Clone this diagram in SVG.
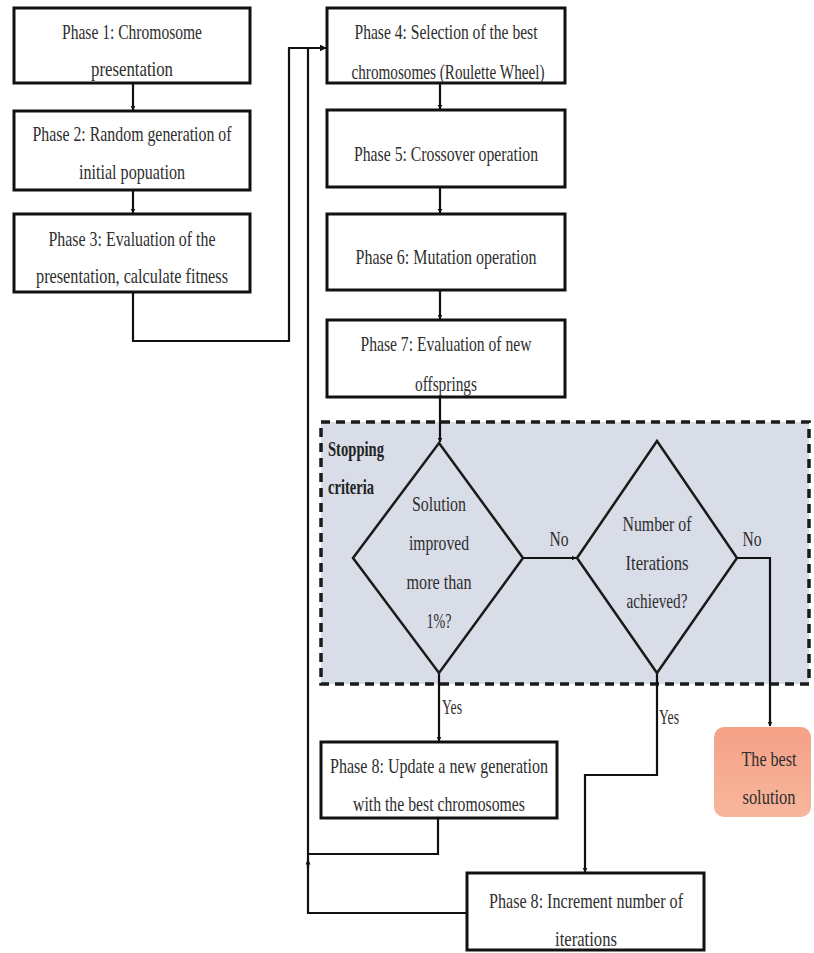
<svg xmlns="http://www.w3.org/2000/svg" width="814" height="953" viewBox="0 0 814 953">
<defs>
<marker id="ah" viewBox="0 0 10 10" refX="9" refY="5" markerWidth="5" markerHeight="5" orient="auto" markerUnits="userSpaceOnUse">
<path d="M0,0 L10,5 L0,10 z" fill="#111"/>
</marker>
<marker id="ahs" viewBox="0 0 10 10" refX="9" refY="5" markerWidth="7" markerHeight="7" orient="auto" markerUnits="userSpaceOnUse">
<path d="M0,0 L10,5 L0,10 z" fill="#111"/>
</marker>
<linearGradient id="og" x1="0" y1="0" x2="0" y2="1">
<stop offset="0" stop-color="#f4a187"/>
<stop offset="1" stop-color="#f8b69c"/>
</linearGradient>
</defs>
<style>
.box{fill:#fff;stroke:#111;stroke-width:3}
.dia{fill:none;stroke:#1a1a1a;stroke-width:2.5}
.t{font-family:"Liberation Serif","DejaVu Serif",serif;font-size:22px;fill:#2e2e2e;text-anchor:middle}
.tb{font-family:"Liberation Serif","DejaVu Serif",serif;font-size:21px;font-weight:bold;fill:#222}
.c{fill:none;stroke:#111;stroke-width:2.2}
</style>
<rect width="814" height="953" fill="#fff"/>

<g id="stopping">
<rect x="321" y="422" width="488" height="262" fill="#d9dde8" stroke="#1a1a1a" stroke-width="3.5" stroke-dasharray="9,6"/>
<text class="tb" x="328" y="456" textLength="56" lengthAdjust="spacingAndGlyphs">Stopping</text>
<text class="tb" x="328" y="494" textLength="46" lengthAdjust="spacingAndGlyphs">criteria</text>
</g>

<g id="connectors">
<path class="c" d="M133,83 V110" marker-end="url(#ah)"/>
<path class="c" d="M133,190 V213" marker-end="url(#ah)"/>
<path class="c" d="M133,292 V341 H289 V48 H326" marker-end="url(#ahs)"/>
<path class="c" d="M440,83 V109" marker-end="url(#ah)"/>
<path class="c" d="M440,187 V213" marker-end="url(#ah)"/>
<path class="c" d="M440,290 V319" marker-end="url(#ah)"/>
<path class="c" d="M440,397 V442" marker-end="url(#ah)"/>
<path class="c" d="M523,558 H576" marker-end="url(#ah)"/>
<path class="c" d="M737,558 H770 V726" marker-end="url(#ah)"/>
<path class="c" d="M439,673 V741" marker-end="url(#ah)"/>
<path class="c" d="M657,673 V775 H585 V872" marker-end="url(#ah)"/>
<path class="c" d="M438,818 V854 H308"/>
<path class="c" d="M467,913 H308 V48"/>
<path class="c" d="M308,868 V860" marker-end="url(#ah)"/>
<text class="t" x="559" y="546" textLength="19" lengthAdjust="spacingAndGlyphs">No</text>
<text class="t" x="752" y="546" textLength="19" lengthAdjust="spacingAndGlyphs">No</text>
<text class="t" x="452" y="714" textLength="20" lengthAdjust="spacingAndGlyphs">Yes</text>
<text class="t" x="669" y="724" textLength="20" lengthAdjust="spacingAndGlyphs">Yes</text>
</g>

<g id="phase1">
<rect class="box" x="14" y="8" width="236" height="75"/>
<text class="t" x="132" y="39" textLength="140" lengthAdjust="spacingAndGlyphs">Phase 1: Chromosome</text>
<text class="t" x="132" y="76" textLength="82" lengthAdjust="spacingAndGlyphs">presentation</text>
</g>
<g id="phase2">
<rect class="box" x="14" y="111" width="236" height="79"/>
<text class="t" x="132" y="141" textLength="199" lengthAdjust="spacingAndGlyphs">Phase 2: Random generation of</text>
<text class="t" x="132" y="179" textLength="106" lengthAdjust="spacingAndGlyphs">initial popuation</text>
</g>
<g id="phase3">
<rect class="box" x="14" y="214" width="236" height="78"/>
<text class="t" x="132" y="246" textLength="167" lengthAdjust="spacingAndGlyphs">Phase 3: Evaluation of the</text>
<text class="t" x="132" y="283" textLength="192" lengthAdjust="spacingAndGlyphs">presentation, calculate fitness</text>
</g>
<g id="phase4">
<rect class="box" x="327" y="8" width="238" height="75"/>
<text class="t" x="446" y="39" textLength="183" lengthAdjust="spacingAndGlyphs">Phase 4: Selection of the best</text>
<text class="t" x="448" y="79" textLength="193" lengthAdjust="spacingAndGlyphs">chromosomes (Roulette Wheel)</text>
</g>
<g id="phase5">
<rect class="box" x="327" y="110" width="238" height="77"/>
<text class="t" x="446" y="161" textLength="184" lengthAdjust="spacingAndGlyphs">Phase 5: Crossover operation</text>
</g>
<g id="phase6">
<rect class="box" x="327" y="214" width="238" height="76"/>
<text class="t" x="446" y="264" textLength="181" lengthAdjust="spacingAndGlyphs">Phase 6: Mutation operation</text>
</g>
<g id="phase7">
<rect class="box" x="327" y="320" width="238" height="77"/>
<text class="t" x="446" y="351" textLength="171" lengthAdjust="spacingAndGlyphs">Phase 7: Evaluation of new</text>
<text class="t" x="446" y="391" textLength="62" lengthAdjust="spacingAndGlyphs">offsprings</text>
</g>
<g id="decision1">
<polygon class="dia" points="439,443 523,558 439,673 353,558"/>
<text class="t" x="439" y="511" textLength="54" lengthAdjust="spacingAndGlyphs">Solution</text>
<text class="t" x="439" y="550" textLength="60" lengthAdjust="spacingAndGlyphs">improved</text>
<text class="t" x="439" y="589" textLength="65" lengthAdjust="spacingAndGlyphs">more than</text>
<text class="t" x="439" y="628" textLength="25" lengthAdjust="spacingAndGlyphs">1%?</text>
</g>
<g id="decision2">
<polygon class="dia" points="657,441 737,558 657,673 577,558"/>
<text class="t" x="657" y="531" textLength="69" lengthAdjust="spacingAndGlyphs">Number of</text>
<text class="t" x="657" y="570" textLength="63" lengthAdjust="spacingAndGlyphs">Iterations</text>
<text class="t" x="657" y="608" textLength="61" lengthAdjust="spacingAndGlyphs">achieved?</text>
</g>
<g id="update">
<rect class="box" x="321" y="742" width="236" height="76"/>
<text class="t" x="439" y="773" textLength="218" lengthAdjust="spacingAndGlyphs">Phase 8: Update a new generation</text>
<text class="t" x="439" y="811" textLength="172" lengthAdjust="spacingAndGlyphs">with the best chromosomes</text>
</g>
<g id="increment">
<rect class="box" x="467" y="873" width="237" height="77"/>
<text class="t" x="586" y="908" textLength="194" lengthAdjust="spacingAndGlyphs">Phase 8: Increment number of</text>
<text class="t" x="586" y="946" textLength="62" lengthAdjust="spacingAndGlyphs">iterations</text>
</g>
<g id="best">
<rect x="714" y="727" width="97" height="90" rx="10" fill="url(#og)"/>
<text class="t" x="769" y="766" textLength="55" lengthAdjust="spacingAndGlyphs">The best</text>
<text class="t" x="769" y="804" textLength="53" lengthAdjust="spacingAndGlyphs">solution</text>
</g>
</svg>
